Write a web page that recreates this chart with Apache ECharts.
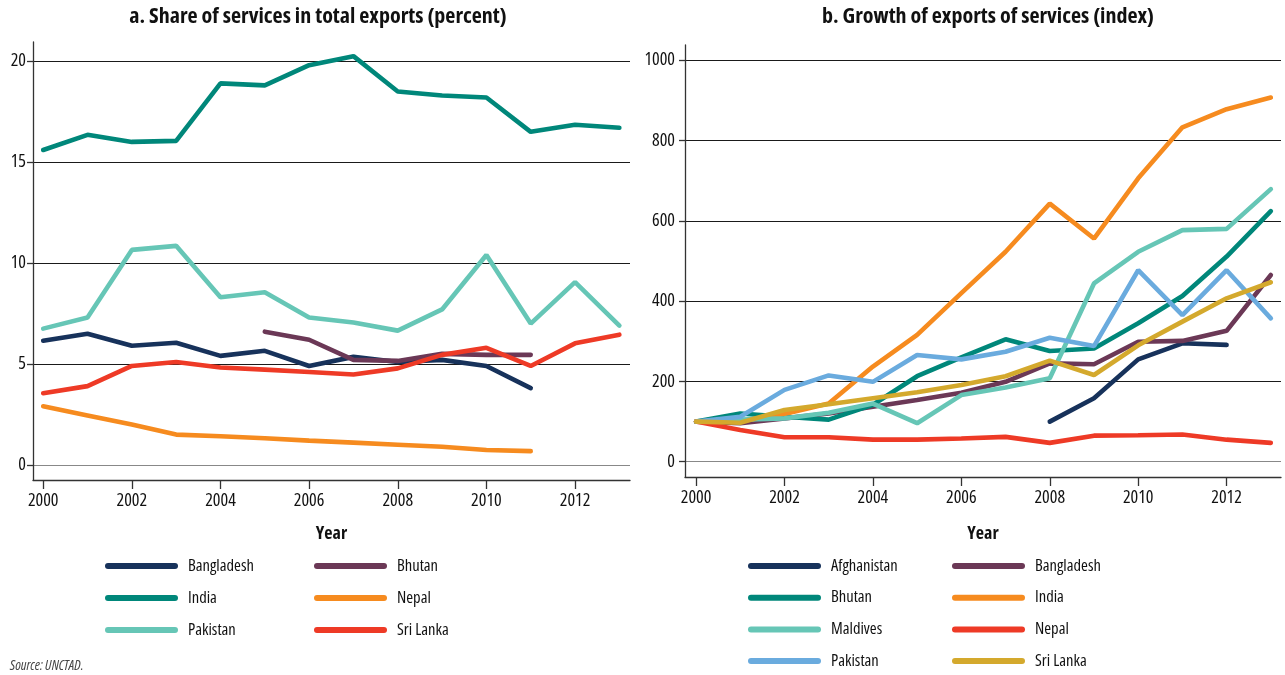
<!DOCTYPE html>
<html>
<head>
<meta charset="utf-8">
<script src="https://cdn.jsdelivr.net/npm/echarts@6/dist/echarts.min.js"></script>
<style>
html,body{margin:0;padding:0;background:#fff;}
#chart{width:1285px;height:675px;}
</style>
</head>
<body>
<div id="chart"></div>
<script>
// ---------- Data ----------
const years = [2000,2001,2002,2003,2004,2005,2006,2007,2008,2009,2010,2011,2012,2013];
const yearTicks = [2000,2002,2004,2006,2008,2010,2012];

// Panel a: share of services in total exports (percent)
const aTicks = [0,5,10,15,20];
const aBangladesh = [6.15,6.5,5.9,6.05,5.4,5.65,4.9,5.35,5.1,5.2,4.9,3.8,null,null];
const aBhutan     = [null,null,null,null,null,6.6,6.2,5.2,5.15,5.5,5.45,5.45,null,null];
const aIndia      = [15.6,16.35,16.0,16.05,18.9,18.8,19.8,20.25,18.5,18.3,18.2,16.5,16.85,16.7];
const aNepal      = [2.9,2.45,2.0,1.5,1.42,1.32,1.2,1.1,1.0,0.9,0.74,0.68,null,null];
const aPakistan   = [6.75,7.3,10.65,10.85,8.3,8.55,7.3,7.05,6.65,7.7,10.4,7.0,9.05,6.9];
const aSriLanka   = [3.55,3.9,4.9,5.1,4.82,4.72,4.6,4.48,4.78,5.45,5.8,4.9,6.02,6.45];

// Panel b: growth of exports of services (index)
const bTicks = [0,200,400,600,800,1000];
const bAfghanistan = [null,null,null,null,null,null,null,null,100,158,255,295,291,null];
const bBangladesh  = [100,96,108,120,137,154,172,199,245,243,299,301,326,465];
const bBhutan      = [100,120,112,105,142,213,260,305,276,282,345,413,511,624];
const bIndia       = [100,101,119,145,237,316,420,523,643,556,706,833,878,907];
const bMaldives    = [100,105,108,122,145,96,166,185,208,444,523,577,580,679];
const bNepal       = [100,79,61,61,55,55,58,62,47,65,66,68,55,47];
const bPakistan    = [100,112,179,215,199,266,255,274,309,288,477,365,477,357];
const bSriLanka    = [100,97,129,143,158,173,191,213,252,216,290,349,407,447];

const aNames = ['Bangladesh','Bhutan','India','Nepal','Pakistan','Sri Lanka'];
const aValues = [aBangladesh,aBhutan,aIndia,aNepal,aPakistan,aSriLanka];
const aColors = ['#17325b','#6b3856','#00877a','#f68b1f','#66c6b6','#ee3a26'];

const bNames = ['Afghanistan','Bangladesh','Bhutan','India','Maldives','Nepal','Pakistan','Sri Lanka'];
const bValues = [bAfghanistan,bBangladesh,bBhutan,bIndia,bMaldives,bNepal,bPakistan,bSriLanka];
const bColors = ['#17325b','#6b3856','#00877a','#f68b1f','#66c6b6','#ee3a26','#6aabde','#d4a92d'];

// ---------- Styling ----------
const FONT = '"Open Sans","Roboto","DejaVu Sans",sans-serif';
const COND = 'condensed';
const GRID_COL = '#1a1a1a';
const capsule = 'path://M3,0H70A3,3,0,0,1,70,6H3A3,3,0,0,1,3,0Z';

function pairs(vals){
  const out = [];
  years.forEach((y,i)=>{ if(vals[i]!==null) out.push([y,vals[i]]); });
  return out;
}

function makeSeries(prefix, names, values, colors, axisIdx){
  return names.map((n,i)=>({
    name: prefix + '|' + n,
    type: 'line',
    xAxisIndex: axisIdx, yAxisIndex: axisIdx,
    data: pairs(values[i]),
    showSymbol: false, symbol: 'none',
    color: colors[i],
    itemStyle: {color: colors[i]},
    lineStyle: {color: colors[i], width: 4.6, cap: 'round'},
    animation: false,
    silent: true
  }));
}

function makeXAxis(gridIndex, min, max, nameGap){
  return {
    type: 'value', gridIndex, min, max,
    name: 'Year', nameLocation: 'middle', nameGap,
    nameTextStyle: {fontFamily: FONT, fontStyle: COND, fontSize: 18, fontWeight: 'bold', color: '#111'},
    axisLine: {show: true, onZero: false, lineStyle: {color: '#333', width: 1.3}},
    axisTick: {show: true, length: 9, customValues: yearTicks, lineStyle: {color: '#333', width: 1.3}},
    axisLabel: {customValues: yearTicks, margin: 12, fontFamily: FONT, fontStyle: COND, fontWeight: 500, fontSize: 18, color: '#111', formatter: v => String(v)},
    splitLine: {show: false}
  };
}
function makeYAxis(gridIndex, min, max, ticks, margin){
  return {
    type: 'value', gridIndex, min, max,
    axisLine: {show: true, lineStyle: {color: '#333', width: 1.3}},
    axisTick: {show: true, length: 6, customValues: ticks, lineStyle: {color: '#333', width: 1.3}},
    axisLabel: {customValues: ticks, margin, fontFamily: FONT, fontStyle: COND, fontWeight: 500, fontSize: 18, color: '#111', formatter: v => String(v)},
    splitLine: {show: true, lineStyle: {color: ['#888', GRID_COL, GRID_COL, GRID_COL, GRID_COL, GRID_COL], width: 1.2}}
  };
}

function makeLegends(prefix, names, colLeft, rowTop, pitch){
  const legends = [];
  names.forEach((n,i)=>{
    const col = i % 2, row = Math.floor(i/2);
    legends.push({
      data: [prefix + '|' + n],
      left: colLeft[col],
      top: rowTop + row*pitch - 10,
      padding: 0,
      icon: capsule,
      itemWidth: 73, itemHeight: 6,
      itemStyle: {borderWidth: 0},
      selectedMode: false,
      formatter: name => name.split('|')[1],
      textStyle: {fontFamily: FONT, fontStyle: COND, fontWeight: 500, fontSize: 16.5, color: '#111', lineHeight: 20, padding: [0,0,0,5]}
    });
  });
  return legends;
}

const chart = echarts.init(document.getElementById('chart'), null, {renderer: 'canvas'});
chart.setOption({
  animation: false,
  backgroundColor: '#fff',
  title: [
    {text: 'a. Share of services in total exports (percent)', left: 318, top: 6, padding: 0, textAlign: 'center',
     textStyle: {fontFamily: FONT, fontStyle: COND, fontSize: 22, fontWeight: 'bold', color: '#111'}},
    {text: 'b. Growth of exports of services (index)', left: 988, top: 6, padding: 0, textAlign: 'center',
     textStyle: {fontFamily: FONT, fontStyle: COND, fontSize: 22, fontWeight: 'bold', color: '#111'}},
    {text: 'Source: UNCTAD.', left: 10, top: 659, padding: 0,
     textStyle: {fontFamily: FONT, fontStyle: 'italic condensed', fontSize: 14, fontWeight: 'normal', color: '#444'}}
  ],
  grid: [
    {left: 33, right: 655, top: 42, bottom: 195},
    {left: 685, right: 4, top: 45, bottom: 198}
  ],
  xAxis: [makeXAxis(0, 1999.77, 2013.24, 45), makeXAxis(1, 1999.75, 2013.23, 48)],
  yAxis: [makeYAxis(0, -0.75, 20.95, aTicks, 7), makeYAxis(1, -38, 1038, bTicks, 10)],
  legend: [
    ...makeLegends('a', aNames, [105, 314], 566, 32),
    ...makeLegends('b', bNames, [748, 952], 566, 31.7)
  ],
  series: [
    ...makeSeries('a', aNames, aValues, aColors, 0),
    ...makeSeries('b', bNames, bValues, bColors, 1)
  ]
});
</script>
</body>
</html>
